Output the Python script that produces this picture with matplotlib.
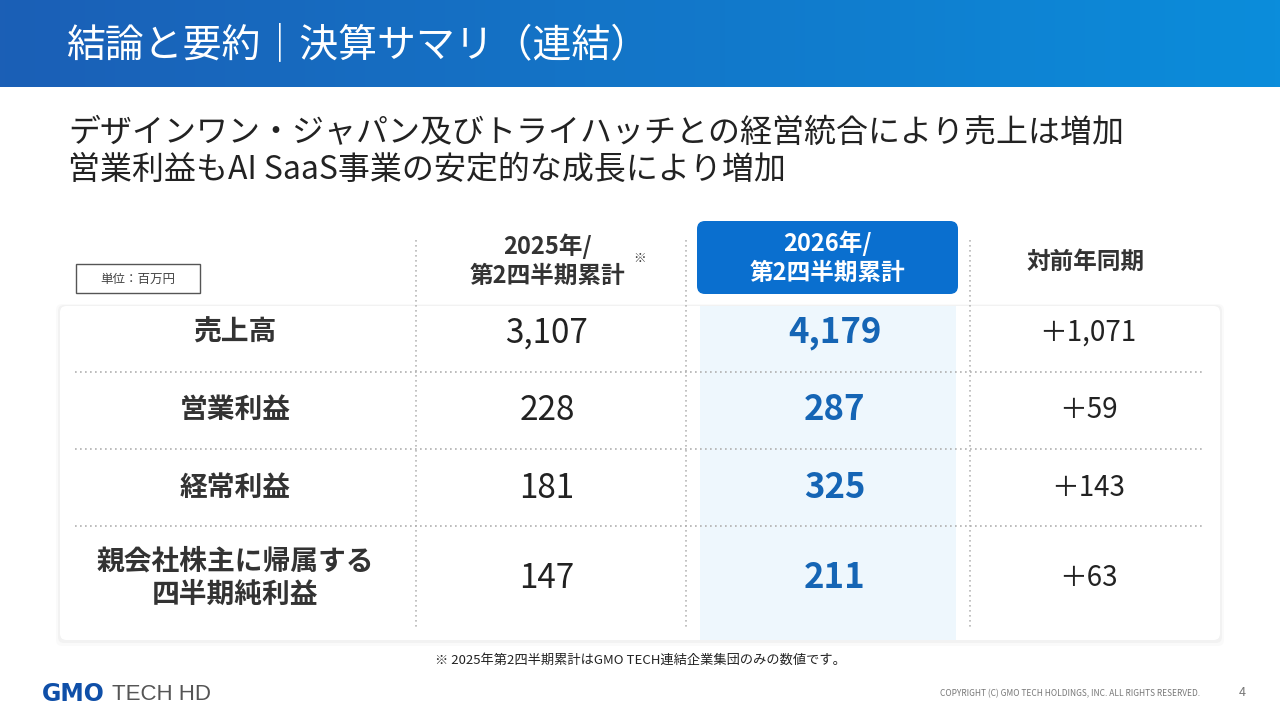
import matplotlib.pyplot as plt
import numpy as np
from matplotlib.patches import FancyBboxPatch, Rectangle
from matplotlib.colors import LinearSegmentedColormap

plt.rcParams['font.family'] = ['Noto Sans CJK JP', 'DejaVu Sans']

# data
items = ['売上高', '営業利益', '経常利益', '親会社株主に帰属する\n四半期純利益']
prev_vals = [3107, 228, 181, 147]
curr_vals = [4179, 287, 325, 211]
yoy_vals = [1071, 59, 143, 63]
col_heads = ['2025年/\n第2四半期累計', '2026年/\n第2四半期累計', '対前年同期']

fig = plt.figure(figsize=(12.8, 7.2), dpi=100)
ax = fig.add_axes([0, 0, 1, 1])
ax.set_xlim(0, 1280)
ax.set_ylim(720, 0)
ax.axis('off')

# header band gradient
grad = np.linspace(0, 1, 256).reshape(1, -1)
cm = LinearSegmentedColormap.from_list('hb', ['#1b5fb6', '#0b8ddb'])
ax.imshow(grad, extent=(0, 1280, 87, 0), cmap=cm, aspect='auto', zorder=0)
ax.text(66, 45, '結論と要約｜決算サマリ（連結）', color='white', fontsize=28, va='center')

ax.text(68, 133, 'デザインワン・ジャパン及びトライハッチとの経営統合により売上は増加',
        fontsize=23, va='center', color='#222222')
ax.text(68, 170, '営業利益もAI SaaS事業の安定的な成長により増加',
        fontsize=23, va='center', color='#222222')

# card with shadow
for i, a in enumerate([0.04, 0.03, 0.02]):
    ax.add_patch(FancyBboxPatch((60 - 2 * i, 306 - 1 * i), 1160 + 4 * i, 334 + 4 * i,
                                boxstyle='round,pad=0,rounding_size=6', fc='#000000',
                                alpha=a, ec='none', zorder=1))
ax.add_patch(FancyBboxPatch((60, 306), 1160, 334, boxstyle='round,pad=0,rounding_size=6',
                            fc='white', ec='none', zorder=2))
ax.add_patch(Rectangle((700, 306), 256, 334, fc='#eef7fd', ec='none', zorder=2))

# 2026 header box
ax.add_patch(FancyBboxPatch((697, 221), 261, 73, boxstyle='round,pad=0,rounding_size=8',
                            fc='#0a6fcf', ec='none', zorder=3))

# dotted lines
for x in [416, 686, 970]:
    ax.plot([x, x], [240, 628], ls=(0, (1, 2)), color='#b8b8b8', lw=1.2, zorder=3)
for y in [372, 449, 526]:
    ax.plot([75, 1205], [y, y], ls=(0, (1, 2)), color='#b0b0b0', lw=1.2, zorder=3)

# unit box
ax.add_patch(Rectangle((76, 264), 124, 29, fc='white', ec='#555555', lw=1, zorder=3))
ax.text(138, 279, '単位：百万円', fontsize=9, ha='center', va='center', color='#444444', zorder=4)

# column heads
ax.text(547, 261, col_heads[0], fontsize=17, fontweight='bold', ha='center', va='center',
        color='#333333', linespacing=1.25, zorder=4)
ax.text(640, 258, '※', fontsize=9, ha='center', va='center', color='#333333')
ax.text(827, 258, col_heads[1], fontsize=17, fontweight='bold', ha='center', va='center',
        color='white', linespacing=1.25, zorder=4)
ax.text(1086, 262, col_heads[2], fontsize=17, fontweight='bold', ha='center', va='center',
        color='#333333', zorder=4)

rows_y = [333, 410, 488, 578]
for y, name, p, c, d in zip(rows_y, items, prev_vals, curr_vals, yoy_vals):
    ax.text(235, y, name, fontsize=20, fontweight='bold', ha='center', va='center',
            color='#333333', linespacing=1.25, zorder=4)
    ax.text(547, y, f'{p:,}', fontsize=24, ha='center', va='center', color='#222222', zorder=4)
    ax.text(835, y, f'{c:,}', fontsize=25, fontweight='bold', ha='center', va='center',
            color='#1565b5', zorder=4)
    ax.text(1088, y, f'＋{d:,}', fontsize=20, ha='center', va='center',
            color='#222222', zorder=4)

ax.text(640, 660, '※ 2025年第2四半期累計はGMO TECH連結企業集団のみの数値です。',
        fontsize=9.5, ha='center', va='center', color='#222222')

# footer
ax.text(42, 694, 'GMO', fontsize=17, fontweight='bold', color='#0f4fa8', va='center',
        family=['DejaVu Sans'])
ax.text(112, 694, 'TECH HD', fontsize=16, color='#555555', va='center', family=['Liberation Sans'])
ax.text(1200, 694, 'COPYRIGHT (C) GMO TECH HOLDINGS, INC. ALL RIGHTS RESERVED.', fontsize=6,
        ha='right', va='center', color='#777777')
ax.text(1242, 692, '4', fontsize=9, ha='center', va='center', color='#777777')

fig.savefig('out.png', dpi=100)
